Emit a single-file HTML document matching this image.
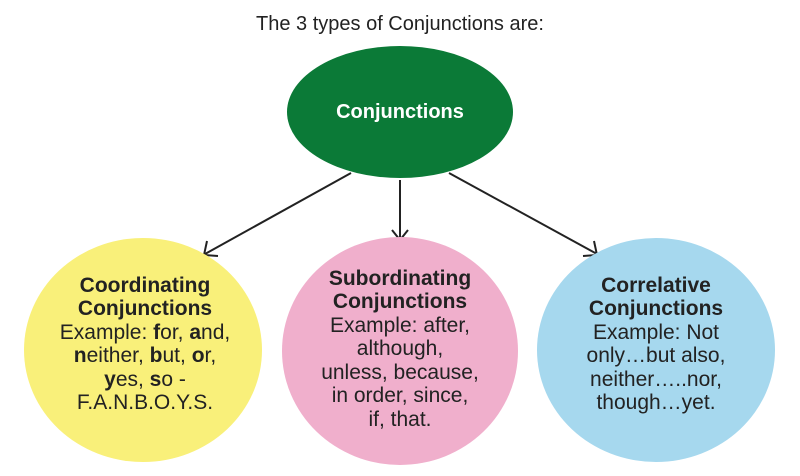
<!DOCTYPE html>
<html><head><meta charset="utf-8"><style>
html,body{margin:0;padding:0;background:#fff;}
svg{display:block;}
text{font-family:"Liberation Sans",Arial,sans-serif;}
</style></head><body>
<svg width="800" height="476" viewBox="0 0 800 476" xmlns="http://www.w3.org/2000/svg">
<rect width="800" height="476" fill="#fff"/>
<text x="400" y="30" font-size="20" fill="#222" text-anchor="middle">The 3 types of Conjunctions are:</text>
<ellipse cx="400" cy="112" rx="113" ry="66" fill="#0b7a37"/>
<text x="400" y="118" font-size="20" font-weight="bold" fill="#fff" text-anchor="middle">Conjunctions</text>
<g stroke="#222" stroke-width="2" fill="none">
<line x1="351" y1="173" x2="205" y2="254"/>
<polyline points="207,241 204,255 218,256"/>
<line x1="400" y1="180" x2="400" y2="240"/>
<polyline points="392,230 400,240 408,230"/>
<line x1="449" y1="173" x2="597" y2="254"/>
<polyline points="583,256 597,255 594,241"/>
</g>
<ellipse cx="143" cy="350" rx="119" ry="112" fill="#f9f07a"/>
<ellipse cx="400" cy="351" rx="118" ry="114" fill="#f0afcc"/>
<ellipse cx="656" cy="350" rx="119" ry="112" fill="#a6d8ee"/>
<g font-size="21" fill="#222" text-anchor="middle">
<text x="145" y="292" font-weight="bold">Coordinating</text>
<text x="145" y="315" font-weight="bold">Conjunctions</text>
<text x="145" y="339">Example: <tspan font-weight="bold">f</tspan>or, <tspan font-weight="bold">a</tspan>nd,</text>
<text x="145" y="362"><tspan font-weight="bold">n</tspan>either, <tspan font-weight="bold">b</tspan>ut, <tspan font-weight="bold">o</tspan>r,</text>
<text x="145" y="386"><tspan font-weight="bold">y</tspan>es, <tspan font-weight="bold">s</tspan>o -</text>
<text x="145" y="409">F.A.N.B.O.Y.S.</text>

<text x="400" y="285" font-weight="bold">Subordinating</text>
<text x="400" y="308" font-weight="bold">Conjunctions</text>
<text x="400" y="332">Example: after,</text>
<text x="400" y="355">although,</text>
<text x="400" y="379">unless, because,</text>
<text x="400" y="402">in order, since,</text>
<text x="400" y="426">if, that.</text>

<text x="656" y="292" font-weight="bold">Correlative</text>
<text x="656" y="315" font-weight="bold">Conjunctions</text>
<text x="656" y="339">Example: Not</text>
<text x="656" y="362">only…but also,</text>
<text x="656" y="386">neither…..nor,</text>
<text x="656" y="409">though…yet.</text>
</g>
</svg>
</body></html>
